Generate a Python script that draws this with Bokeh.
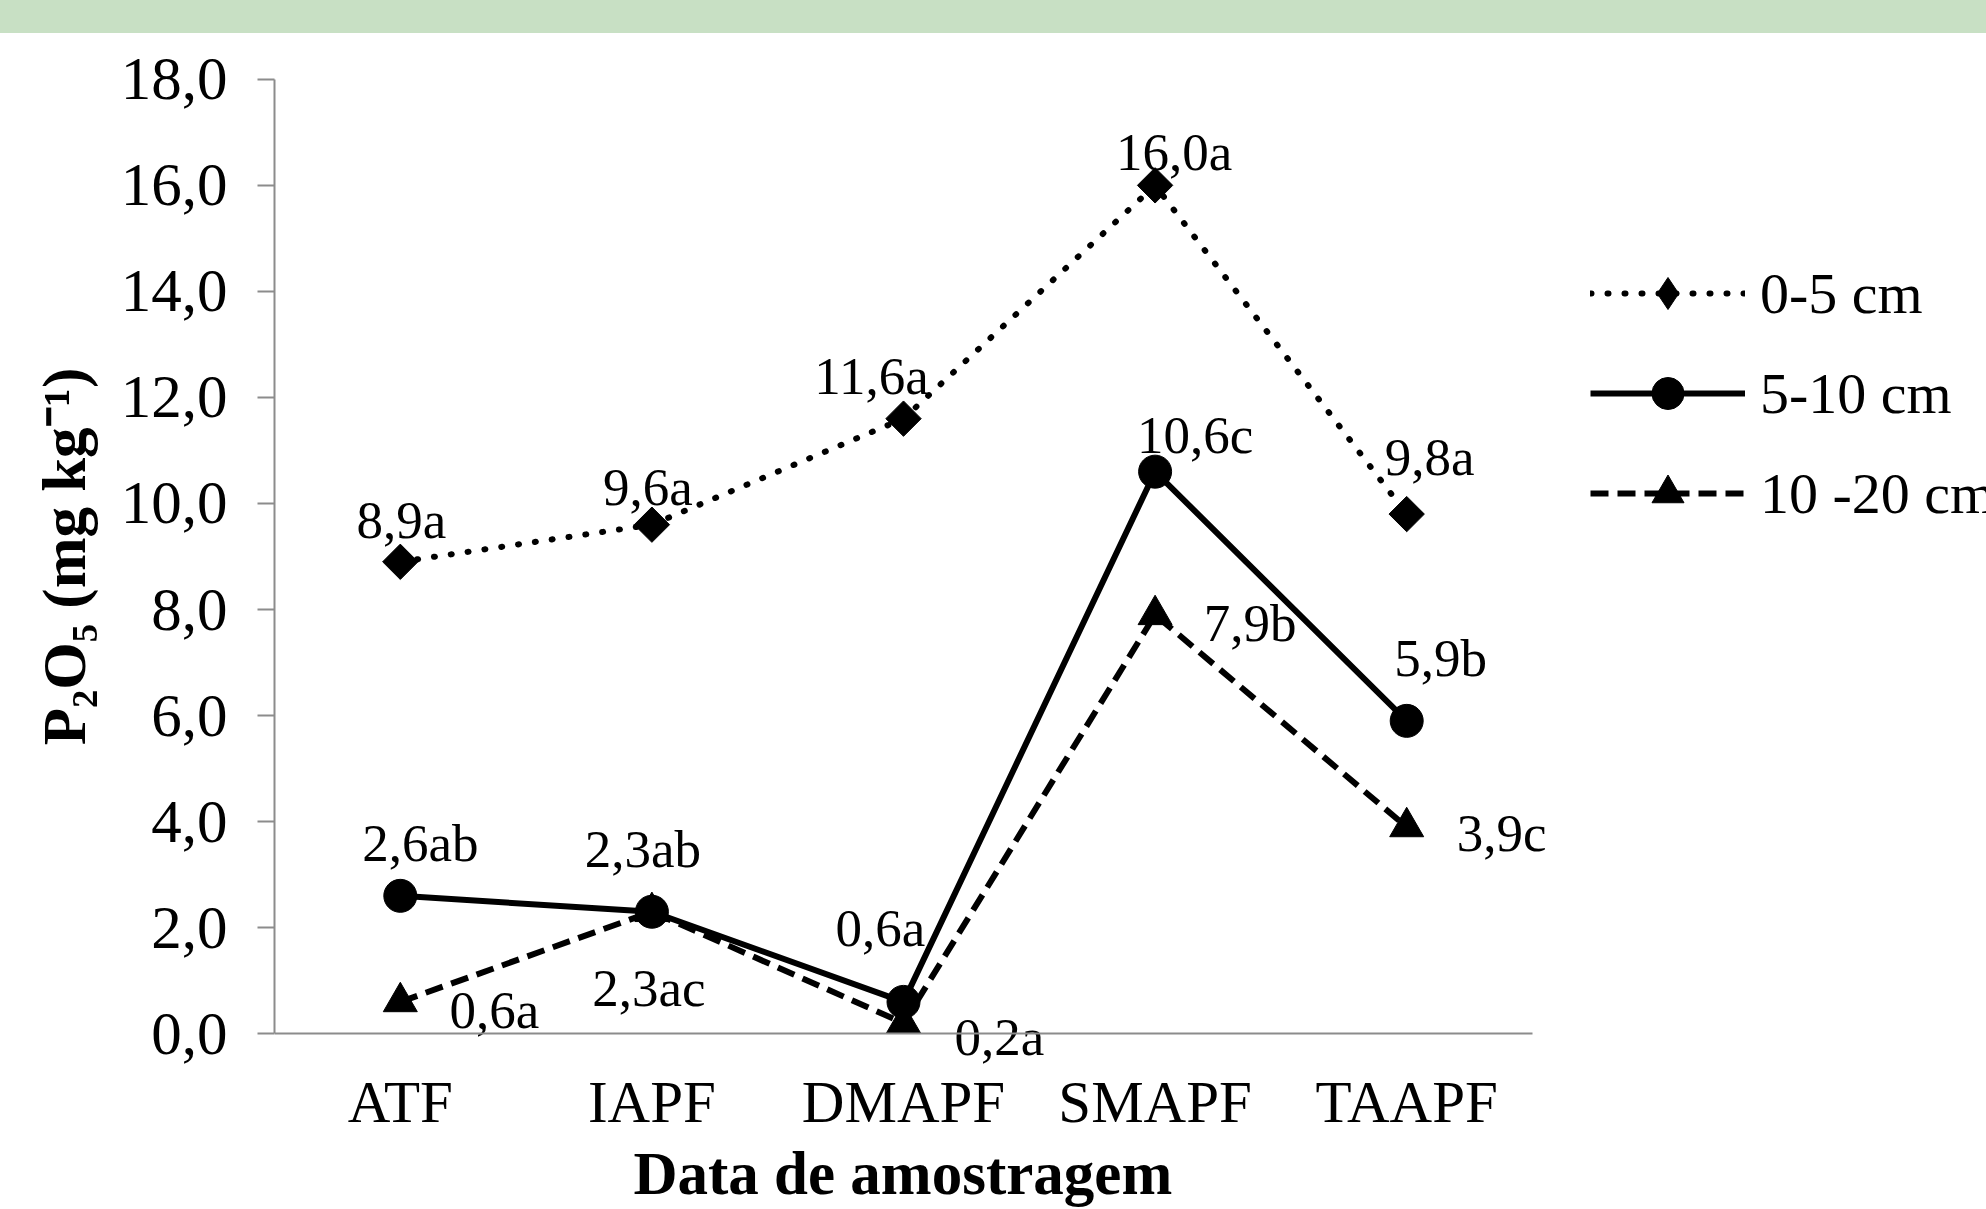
import math
from bokeh.plotting import figure
from bokeh.models import (ColumnDataSource, FixedTicker, Legend, LegendItem, Div,
                          Range1d, Title, LinearAxis)
from bokeh.layouts import column
from bokeh.embed import file_html
from bokeh.resources import INLINE
from bokeh.core.properties import value

# ---------------- data ----------------
categories = ["ATF", "IAPF", "DMAPF", "SMAPF", "TAAPF"]
series_names = ["0-5 cm", "5-10 cm", "10 -20 cm"]
values_0_5 = [8.9, 9.6, 11.6, 16.0, 9.8]
values_5_10 = [2.6, 2.3, 0.6, 10.6, 5.9]
values_10_20 = [0.6, 2.3, 0.2, 7.9, 3.9]
labels_0_5 = ["8,9a", "9,6a", "11,6a", "16,0a", "9,8a"]
labels_5_10 = ["2,6ab", "2,3ab", "0,6a", "10,6c", "5,9b"]
labels_10_20 = ["0,6a", "2,3ac", "0,2a", "7,9b", "3,9c"]
y_ticks = [0, 2, 4, 6, 8, 10, 12, 14, 16, 18]
y_tick_labels = ["0,0", "2,0", "4,0", "6,0", "8,0", "10,0", "12,0", "14,0", "16,0", "18,0"]
x_title = "Data de amostragem"
y_title = "P\u2082O\u2085 (mg kg\u207b\u00b9)"

# ---------------- label placement (screen px; dx right, dy down) ----------------
dx_0_5 = [1, -4, -32, 19, 23]
dy_0_5 = [-42, -38, -43, -33, -57]
dx_5_10 = [20, -9, -23, 40, 34]
dy_5_10 = [-53, -63, -74, -37, -63]
dx_10_20 = [94, -3, 96, 95, 95]
dy_10_20 = [8, 76, 14, 8, 6]

FONT = "Liberation Serif"
AXIS_GREY = "#8C8C8C"

# ---------------- layout geometry (px) ----------------
W, BAND_H, H = 1986, 33, 1176
FRAME_LEFT = 274          # y axis position
AXIS_END = 1532           # right end of the category axis
Y_MIN, Y_MAX = 0, 18
PAD = 0.6                 # extra drawing room above/below the axis bounds
n_cat = len(categories)
unit_px = (AXIS_END - FRAME_LEFT) / n_cat
x_pos = list(range(n_cat))
x_end = -0.5 + (W - FRAME_LEFT) / unit_px

src = ColumnDataSource(dict(
    x=x_pos, cat=categories,
    v1=values_0_5, v2=values_5_10, v3=values_10_20,
    l1=labels_0_5, l2=labels_5_10, l3=labels_10_20,
    dx1=dx_0_5, dy1=dy_0_5, dx2=dx_5_10, dy2=dy_5_10, dx3=dx_10_20, dy3=dy_10_20,
))

p = figure(x_range=Range1d(-0.5, x_end), y_range=Range1d(Y_MIN - PAD, Y_MAX + PAD),
           width=W, height=H,
           output_backend="svg", toolbar_location=None,
           min_border_left=FRAME_LEFT, min_border_right=0,
           min_border_top=14, min_border_bottom=144)
p.outline_line_color = None
p.grid.visible = False
p.background_fill_color = "white"
p.border_fill_color = "white"

# series 1: dotted with diamonds
r1l = p.line("x", "v1", source=src, line_color="black", line_width=6,
             line_dash="1 16", line_cap="round")
r1m = p.scatter("x", "v1", source=src, marker="square", angle=math.pi / 4,
                size=25, color="black")
# legend-only marker (diamond drawn upright in the legend)
r1k = p.scatter("x", "v1", source=src, marker="diamond", size=34,
                color="black", visible=False)
# series 2: solid with circles
r2l = p.line("x", "v2", source=src, line_color="black", line_width=6)
r2m = p.scatter("x", "v2", source=src, marker="circle", size=33, color="black")
# series 3: dashed with triangles
r3l = p.line("x", "v3", source=src, line_color="black", line_width=6,
             line_dash="18 9")
r3m = p.scatter("x", "v3", source=src, marker="triangle", size=34, color="black")

for v, lab, dx, dy in (("v1", "l1", "dx1", "dy1"), ("v2", "l2", "dx2", "dy2"),
                       ("v3", "l3", "dx3", "dy3")):
    p.text(x="x", y=v, text=lab, x_offset=dx, y_offset=dy, source=src,
           text_font=value(FONT), text_font_size="53px", text_color="black",
           text_align="center", text_baseline="middle")

# y axis
ya = p.yaxis[0]
ya.axis_line_color = AXIS_GREY
ya.axis_line_width = 2
ya.major_label_text_font = FONT
ya.major_label_text_color = "black"
ya.major_label_text_font_size = "61px"
ya.axis_label_text_font = FONT
ya.axis_label_text_font_size = "61px"
ya.axis_label_text_font_style = "bold"
ya.axis_label_text_color = "black"
ya.minor_tick_line_color = None
ya.ticker = FixedTicker(ticks=y_ticks)
ya.major_label_overrides = dict(zip(y_ticks, y_tick_labels))
ya.bounds = (Y_MIN, Y_MAX)
ya.major_tick_line_color = AXIS_GREY
ya.major_tick_line_width = 2
ya.major_tick_out = 17
ya.major_tick_in = 0
ya.major_label_standoff = 30
ya.axis_label = y_title
ya.axis_label_standoff = 20

# x axis line, crossing the y axis at 0
xa = p.xaxis[0]
xa.fixed_location = Y_MIN
xa.bounds = (-0.5, n_cat - 0.5)
xa.axis_line_color = AXIS_GREY
xa.axis_line_width = 2
xa.ticker = FixedTicker(ticks=[])
xa.major_tick_line_color = None
xa.minor_tick_line_color = None
xa.major_label_text_alpha = 0

# x category labels
xl = LinearAxis(ticker=FixedTicker(ticks=x_pos))
xl.major_label_overrides = dict(zip(x_pos, categories))
xl.axis_line_color = None
xl.major_tick_line_color = None
xl.minor_tick_line_color = None
xl.major_tick_out = 0
xl.major_tick_in = 0
xl.major_label_standoff = 3
xl.major_label_text_font = FONT
xl.major_label_text_font_size = "59px"
xl.major_label_text_color = "black"
p.add_layout(xl, "below")

xt = Title(text=x_title, align="left", offset=359, standoff=0,
           text_font=FONT, text_font_size="61px", text_font_style="bold",
           text_color="black")
p.add_layout(xt, "below")

legend = Legend(items=[
    LegendItem(label=series_names[0], renderers=[r1l, r1k]),
    LegendItem(label=series_names[1], renderers=[r2l, r2m]),
    LegendItem(label=series_names[2], renderers=[r3l, r3m]),
], location=(1590 - FRAME_LEFT, 532), orientation="vertical")
legend.border_line_color = None
legend.background_fill_alpha = 0
legend.inactive_fill_alpha = 0
legend.padding = 0
legend.margin = 0
legend.spacing = 20
legend.glyph_width = 155
legend.glyph_height = 80
legend.label_height = 80
legend.label_standoff = 15
legend.label_text_font = FONT
legend.label_text_font_size = "58px"
legend.label_text_color = "black"
p.add_layout(legend)

band = Div(text="", width=W, height=BAND_H, margin=0,
           styles={"background-color": "#C8E0C4"})
layout = column(band, p, spacing=0)

open("out.html", "w").write(file_html(layout, INLINE))
